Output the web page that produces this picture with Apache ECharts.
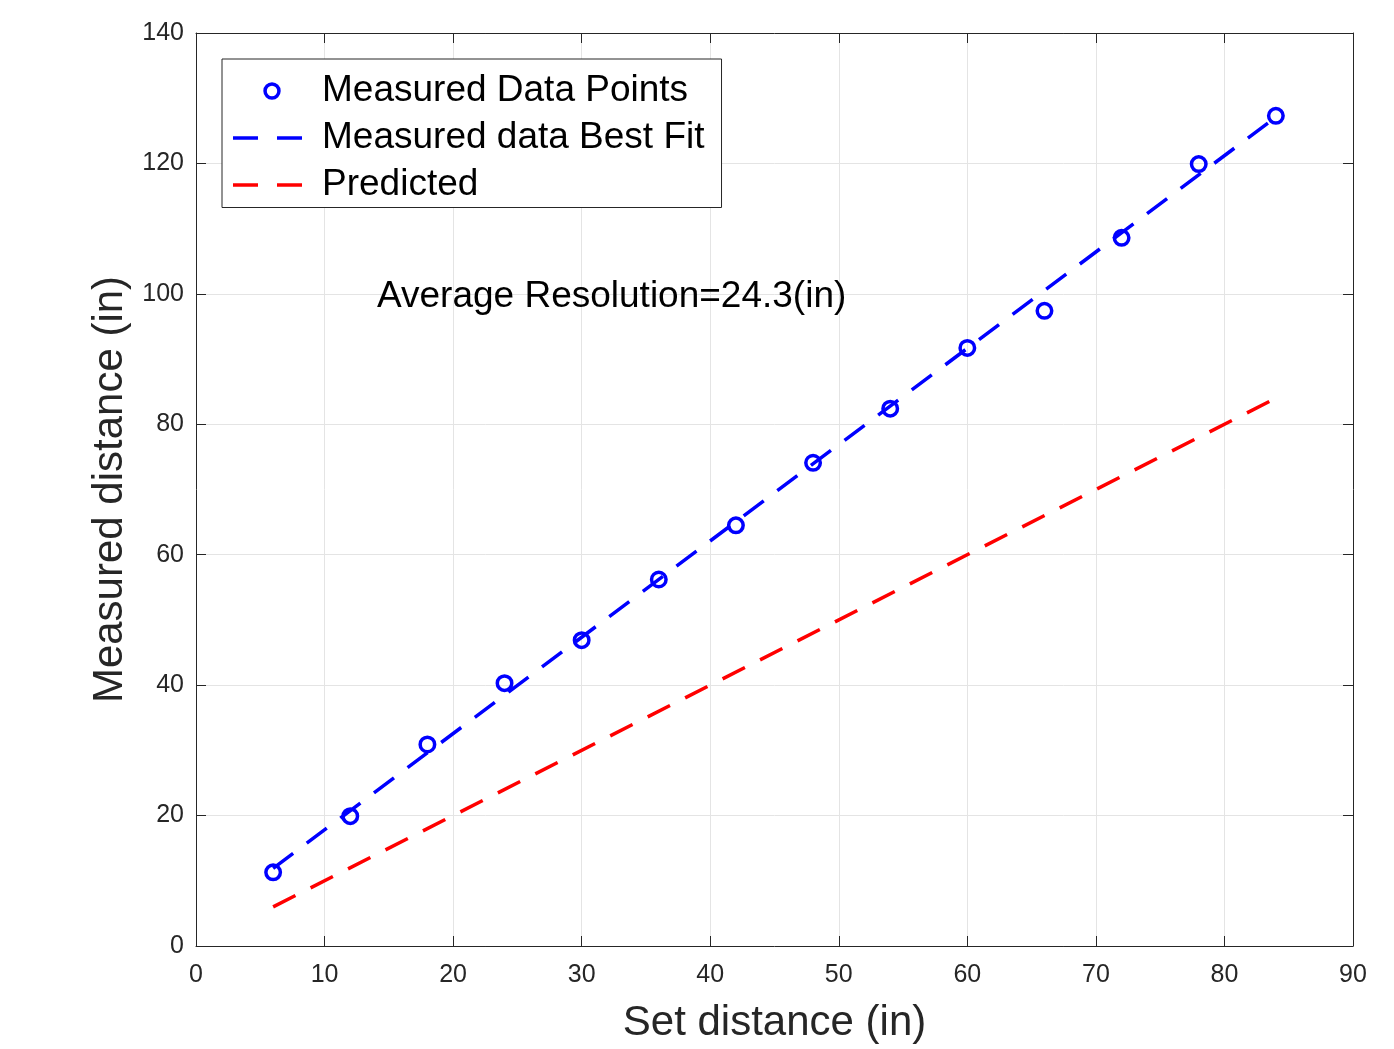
<!DOCTYPE html>
<html><head><meta charset="utf-8">
<script src="https://cdn.jsdelivr.net/npm/echarts@6/dist/echarts.min.js"></script>
<style>html,body{margin:0;padding:0;background:#fff}#c{width:1394px;height:1049px}</style>
</head><body><div id="c"></div>
<script>
const setDistance = [6, 12, 18, 24, 30, 36, 42, 48, 54, 60, 66, 72, 78, 84];
const measured = [11.3, 19.9, 30.9, 40.3, 46.9, 56.2, 64.5, 74.1, 82.4, 91.7, 97.4, 108.6, 119.9, 127.3];
const bestFitX = [6, 84];
const bestFitY = [11.9, 127.1];
const predictedX = [6, 84];
const predictedY = [6, 84];
const seriesNames = ['Measured Data Points', 'Measured data Best Fit', 'Predicted'];
const annotation = 'Average Resolution=24.3(in)';

const FONT = 'Liberation Sans, Arial, Helvetica, sans-serif';
const AX = '#262626';
const chart = echarts.init(document.getElementById('c'));
const pair = (xs, ys) => xs.map((x, i) => [x, ys[i]]);

const baseAxis = {
  axisLine: { show: true, onZero: false, lineStyle: { color: AX, width: 1 } },
  axisTick: { show: true, inside: true, length: 10, lineStyle: { color: AX } },
  splitLine: { show: false },
  axisLabel: { show: false }
};

const ringIcon = 'path://M0,0M84,18M30.3,9A8.7,8.7 0 1,0 47.7,9A8.7,8.7 0 1,0 30.3,9ZM33.8,9A5.2,5.2 0 1,1 44.2,9A5.2,5.2 0 1,1 33.8,9Z';
const dashIcon = 'path://M0,0M84,18M0,7.25H25V10.75H0ZM44,7.25H69V10.75H44Z';

chart.setOption({
  animation: false,
  backgroundColor: '#fff',
  grid: { left: 196, right: 41, top: 33, bottom: 102, containLabel: false },
  xAxis: [
    Object.assign({}, baseAxis, {
      type: 'value', min: 0, max: 90, interval: 10, position: 'bottom',
      splitLine: { show: true, lineStyle: { color: '#e4e4e4', width: 1 } },
      axisLabel: { show: true, color: AX, fontSize: 25, fontFamily: FONT, margin: 17 },
      name: 'Set distance (in)', nameLocation: 'middle', nameGap: 56,
      nameTextStyle: { color: AX, fontSize: 42, fontFamily: FONT, verticalAlign: 'top' }
    }),
    Object.assign({}, baseAxis, { type: 'value', min: 0, max: 90, interval: 10, position: 'top' })
  ],
  yAxis: [
    Object.assign({}, baseAxis, {
      type: 'value', min: 0, max: 140, interval: 20, position: 'left',
      splitLine: { show: true, lineStyle: { color: '#e4e4e4', width: 1 } },
      axisLabel: { show: true, color: AX, fontSize: 25, fontFamily: FONT, margin: 12, lineHeight: 29, verticalAlign: 'middle', padding: [5, 0, 0, 0] },
      name: 'Measured distance (in)', nameLocation: 'middle', nameGap: 64, nameRotate: 90,
      nameTextStyle: { color: AX, fontSize: 42, fontFamily: FONT }
    }),
    Object.assign({}, baseAxis, { type: 'value', min: 0, max: 140, interval: 20, position: 'right' })
  ],
  legend: {
    left: 222, top: 59, orient: 'vertical',
    data: [
      { name: seriesNames[0], icon: ringIcon, itemStyle: { color: '#0000ff', borderWidth: 0, opacity: 1 } },
      { name: seriesNames[1], icon: dashIcon, itemStyle: { color: '#0000ff', borderWidth: 0, opacity: 1 } },
      { name: seriesNames[2], icon: dashIcon, itemStyle: { color: '#ff0000', borderWidth: 0, opacity: 1 } }
    ],
    backgroundColor: '#fff', borderColor: AX, borderWidth: 1, borderRadius: 0,
    padding: [13.5, 17, 4, 11],
    itemWidth: 84, itemHeight: 18, itemGap: 10,
    textStyle: { fontSize: 37, fontFamily: FONT, color: '#000' }
  },
  graphic: [{
    type: 'text', left: 377, top: 278, z: 100,
    style: { text: annotation, font: '37px ' + FONT, fill: '#000' }
  }],
  series: [
    {
      name: seriesNames[1], type: 'line', data: pair(bestFitX, bestFitY),
      showSymbol: false, symbol: 'none', itemStyle: { color: '#0000ff' },
      lineStyle: { color: '#0000ff', width: 3.5, type: [25, 17] }, z: 2
    },
    {
      name: seriesNames[2], type: 'line', data: pair(predictedX, predictedY),
      showSymbol: false, symbol: 'none', itemStyle: { color: '#ff0000' },
      lineStyle: { color: '#ff0000', width: 3.5, type: [25, 17] }, z: 2
    },
    {
      name: seriesNames[0], type: 'scatter', data: pair(setDistance, measured),
      symbol: 'circle', symbolSize: 14.5,
      itemStyle: { color: 'rgba(0,0,0,0)', borderColor: '#0000ff', borderWidth: 3.5, opacity: 1 }, z: 3
    }
  ]
});
</script></body></html>
